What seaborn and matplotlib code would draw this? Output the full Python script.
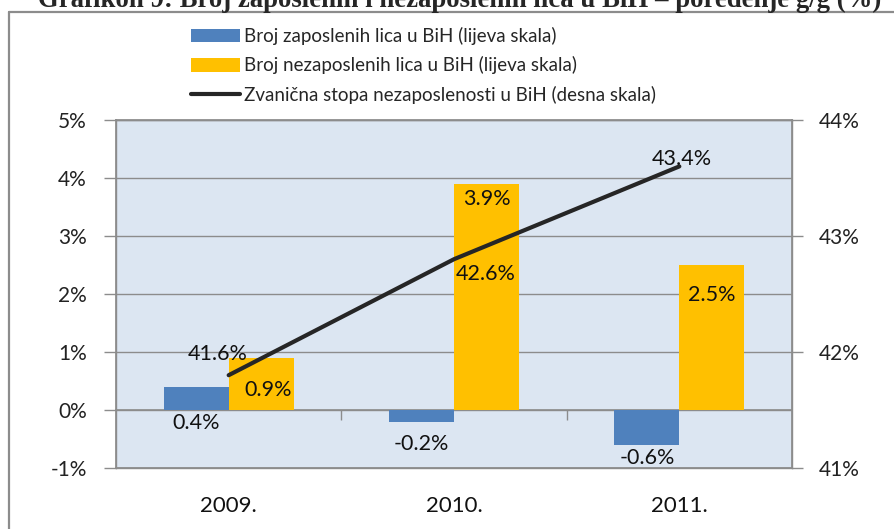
import matplotlib
matplotlib.use('Agg')
import matplotlib.pyplot as plt
from matplotlib.lines import Line2D
from matplotlib.ticker import FuncFormatter
import seaborn as sns
import pandas as pd

# Data
years = ['2009.', '2010.', '2011.']
zaposleni = [0.4, -0.2, -0.6]        # lijeva skala, %
nezaposleni = [0.9, 3.9, 2.5]        # lijeva skala, %
stopa = [41.8, 42.8, 43.6]           # desna skala, position of the line
stopa_labels = ['41.6%', '42.6%', '43.4%']   # labels as printed on the chart

serija1 = 'Broj zaposlenih lica u BiH (lijeva skala)'
serija2 = 'Broj nezaposlenih lica u BiH (lijeva skala)'
serija3 = 'Zvanična stopa nezaposlenosti u BiH (desna skala)'
naslov = 'Grafikon 9: Broj zaposlenih i nezaposlenih lica u BiH \u2013 poređenje g/g (%)'

# Styles
cBlue = '#4f81bd'
cYellow = '#ffc000'
cLine = '#262626'
cGrid = '#8c8c8c'
cBack = '#dce6f2'
fsTick = 15
fsLab = 15.5
# label offsets in pixels (dx, dy)
offZap = [(0, -13), (0, -22), (0, -13)]
offNez = [(7, -32), (0, -15), (0, -30)]
offStopa = [(-11, 21), (32, -15), (2, 7)]

sns.set_theme(style='white')
plt.rcParams['font.family'] = ['Lato', 'DejaVu Sans']

fig = plt.figure(figsize=(8.94, 5.29), dpi=100)
ax = fig.add_axes([116/894, 61/529, 676/894, 348/529])

df = pd.DataFrame({'godina': years * 2,
                   'vrijednost': zaposleni + nezaposleni,
                   'serija': [serija1] * 3 + [serija2] * 3})
sns.barplot(data=df, x='godina', y='vrijednost', hue='serija', palette=[cBlue, cYellow],
            saturation=1, width=0.577, linewidth=0, ax=ax, zorder=3)
ax.set_facecolor(cBack)
ax.set_xlim(-0.5, 2.5)
ax.set_ylim(-1, 5)
ax.set_yticks(range(-1, 6))
ax.yaxis.set_major_formatter(FuncFormatter(lambda v, p: f'{v:.0f}%'))
ax.grid(axis='y', color=cGrid, lw=1, zorder=0)
ax.set_axisbelow(True)
ax.set_xlabel('')
ax.set_ylabel('')
for s in ax.spines.values():
    s.set_color(cGrid)
    s.set_linewidth(1)
ax.tick_params(axis='y', left=True, direction='out', length=9, width=1, color=cGrid,
               pad=12, labelsize=fsTick, labelcolor='#222222')
ax.tick_params(axis='x', bottom=False, length=0, pad=20, labelsize=16, labelcolor='#111111')

# category axis crossing at 0%
sec = ax.secondary_xaxis(1/6)
sec.set_xticks([0.5, 1.5])
sec.tick_params(direction='out', length=7, width=1, color=cGrid, labelbottom=False, bottom=True)
sec.spines['bottom'].set_color(cGrid)
sec.spines['bottom'].set_linewidth(1.2)

# bar labels
for cont, vals, offs in zip(ax.containers, [zaposleni, nezaposleni], [offZap, offNez]):
    for bar, v, (dx, dy) in zip(cont, vals, offs):
        xc = bar.get_x() + bar.get_width() / 2
        ax.annotate(f'{v:.1f}%', (xc, min(v, 0) if cont is ax.containers[0] else v),
                    xytext=(dx, dy), textcoords='offset pixels', ha='center', va='center',
                    fontsize=fsLab, color='#111111', zorder=5)

# line on the right axis
ax2 = ax.twinx()
sns.lineplot(x=years, y=stopa, sort=False, ax=ax2, color=cLine, lw=3, label=serija3,
             solid_capstyle='round', zorder=4)
ax2.set_ylim(41, 44)
ax2.set_yticks([41, 42, 43, 44])
ax2.yaxis.set_major_formatter(FuncFormatter(lambda v, p: f'{v:.0f}%'))
ax2.grid(False)
ax2.set_ylabel('')
for s in ax2.spines.values():
    s.set_color(cGrid)
ax2.tick_params(axis='y', right=True, direction='out', length=8, width=1, color=cGrid,
                pad=11, labelsize=fsTick, labelcolor='#222222')
for i, (v, t, (dx, dy)) in enumerate(zip(stopa, stopa_labels, offStopa)):
    ax2.annotate(t, (i, v), xytext=(dx, dy), textcoords='offset pixels', ha='center',
                 va='center', fontsize=fsLab, color='#111111', zorder=6)

# legend above the plot
h1, l1 = ax.get_legend_handles_labels()
h2, l2 = ax2.get_legend_handles_labels()
ax.get_legend().remove()
ax2.get_legend().remove()
fig.legend(h1 + h2, l1 + l2, loc='upper left', bbox_to_anchor=(191/894, 1 - 27/529),
           frameon=False, fontsize=13.5, handlelength=2.6, handleheight=0.75,
           handletextpad=0.2, labelspacing=0.6, borderpad=0, borderaxespad=0)

# clipped title and outer frame
fig.text(38/894, 1 - 7/529, naslov, fontfamily='Liberation Serif', fontweight='bold',
         fontsize=19.3, va='baseline', ha='left')
fig.add_artist(Line2D([9/894, 9/894], [0, 1 - 11.5/529], transform=fig.transFigure,
                      color=cGrid, lw=1.6))
fig.add_artist(Line2D([9/894, 1], [1 - 11.5/529, 1 - 11.5/529], transform=fig.transFigure,
                      color=cGrid, lw=1.6))

fig.savefig('out.png', dpi=100)
